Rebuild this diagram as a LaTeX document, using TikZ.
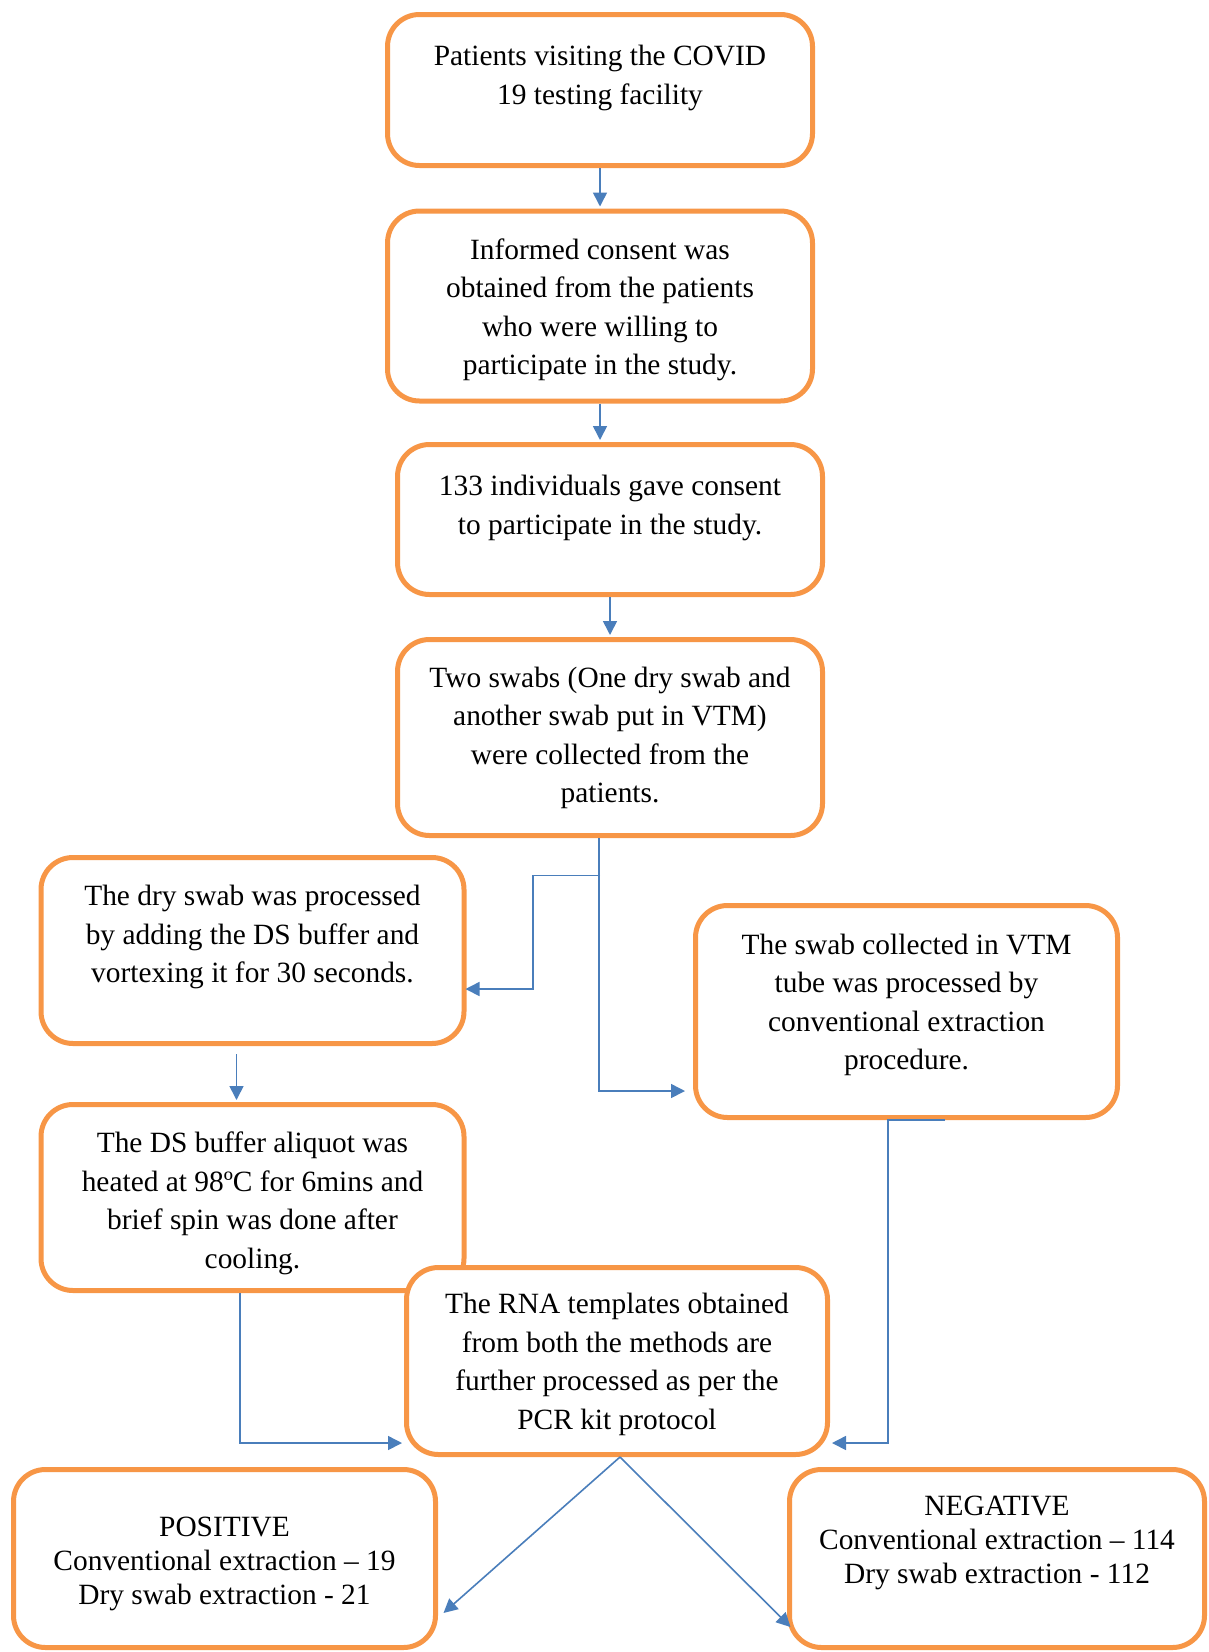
\documentclass[tikz,border=0pt]{standalone}
\usepackage{fontspec}
\setmainfont{Liberation Serif}
\usetikzlibrary{arrows.meta,calc}
\definecolor{boxorange}{HTML}{F79646}
\definecolor{linkblue}{HTML}{4A7EBB}
\begin{document}
\begin{tikzpicture}[x=1pt,y=-1pt,
  box/.style={draw=boxorange, line width=5pt, rounded corners=32pt, fill=white, inner sep=0pt},
  txt/.style={align=center, inner sep=0pt, anchor=north, font=\fontsize{29.4}{38.5}\selectfont},
  txtb/.style={align=center, inner sep=0pt, anchor=north, font=\fontsize{29.4}{34}\selectfont},
  link/.style={draw=linkblue, line width=1.6pt, -{Triangle[length=14pt,width=14pt]}, shorten >=2pt},
  ]
\useasboundingbox (0,0) rectangle (1208,1652);

% boxes
\node[box, minimum width=425pt, minimum height=151pt] (b1) at (600,90) {};
\node[box, minimum width=425pt, minimum height=190pt] (b2) at (600,306) {};
\node[box, minimum width=425pt, minimum height=150pt] (b3) at (610,519.5) {};
\node[box, minimum width=425pt, minimum height=196pt] (b4) at (610,737.5) {};
\node[box, minimum width=423pt, minimum height=186pt] (b5) at (252.5,950.5) {};
\node[box, minimum width=422pt, minimum height=212pt] (b6) at (906.5,1011.5) {};
\node[box, minimum width=423pt, minimum height=186pt] (b7) at (252.5,1197.5) {};
\node[box, minimum width=421pt, minimum height=187pt] (b8) at (617,1361) {};
\node[box, minimum width=422pt, minimum height=178pt] (b9) at (224.5,1558.5) {};
\node[box, minimum width=415pt, minimum height=178pt] (b10) at (997,1558.5) {};

% texts
\node[txt] (t1) at ($(b1.north)+(0,26.5)$) {\strut Patients visiting the COVID\\19 testing facility};
\node[txt] (t2) at ($(b2.north)+(0,23.5)$) {\strut Informed consent was\\obtained from the patients\\who were willing to\\participate in the study.};
\node[txt] (t3) at ($(b3.north)+(0,26.5)$) {\strut 133 individuals gave consent\\to participate in the study.};
\node[txt] (t4) at ($(b4.north)+(0,23)$) {\strut Two swabs (One dry swab and\\another swab put in VTM)\\were collected from the\\patients.};
\node[txt] (t5) at ($(b5.north)+(0,23.5)$) {\strut The dry swab was processed\\by adding the DS buffer and\\vortexing it for 30 seconds.};
\node[txt] (t6) at ($(b6.north)+(0,24)$) {\strut The swab collected in VTM\\tube was processed by\\conventional extraction\\procedure.};
\node[txt] (t7) at ($(b7.north)+(0,23.5)$) {\strut The DS buffer aliquot was\\heated at 98ºC for 6mins and\\brief spin was done after\\cooling.};
\node[txt] (t8) at ($(b8.north)+(0,21.5)$) {\strut The RNA templates obtained\\from both the methods are\\further processed as per the\\PCR kit protocol};
\node[txtb] (t9) at ($(b9.north)+(0,45.5)$) {\strut POSITIVE\\Conventional extraction – 19\\Dry swab extraction - 21};
\node[txtb] (t10) at ($(b10.north)+(0,24.5)$) {\strut NEGATIVE\\Conventional extraction – 114\\Dry swab extraction - 112};

% connectors
\draw[link] (b1.south) -- (b2.north);
\draw[link] (b2.south) -- (b2.south |- b3.north);
\draw[link] (b3.south) -- (b4.north);

\coordinate (s4) at ($(b4.south)+(-11,0)$);
\coordinate (fork) at ($(s4)+(1,37.5)$);
\coordinate (j6) at ($(b6.west)+(-8,79.5)$);
\draw[link, shorten >=0pt] (s4) |- (j6);
\draw[link, shorten >=-1pt] (fork) -- ++(-67,0) |- ($(b5.east)+(0,38.5)$);

\coordinate (s5) at ($(b5.south)+(-16,8)$);
\draw[link] (s5) -- (s5 |- b7.north);

\coordinate (s6) at ($(b6.south)+(38.5,0)$);
\draw[link] (s6) -- ($(b6.south)+(-18.5,0)$) |- ($(b8.east)+(0,82)$);

\coordinate (s7) at ($(b7.south)+(-12.5,0)$);
\draw[link] (s7) |- ($(b8.west)+(0,82)$);

\coordinate (tipL) at ($(b9.east)+(5.5,54.5)$);
\coordinate (tipR) at ($(b10.west)+(3.5,68.5)$);
\draw[link, shorten >=0pt] ($(b8.south)+(3,0)$) -- (tipL);
\draw[link, shorten >=0pt] ($(b8.south)+(3,0)$) -- (tipR);
\end{tikzpicture}
\end{document}
